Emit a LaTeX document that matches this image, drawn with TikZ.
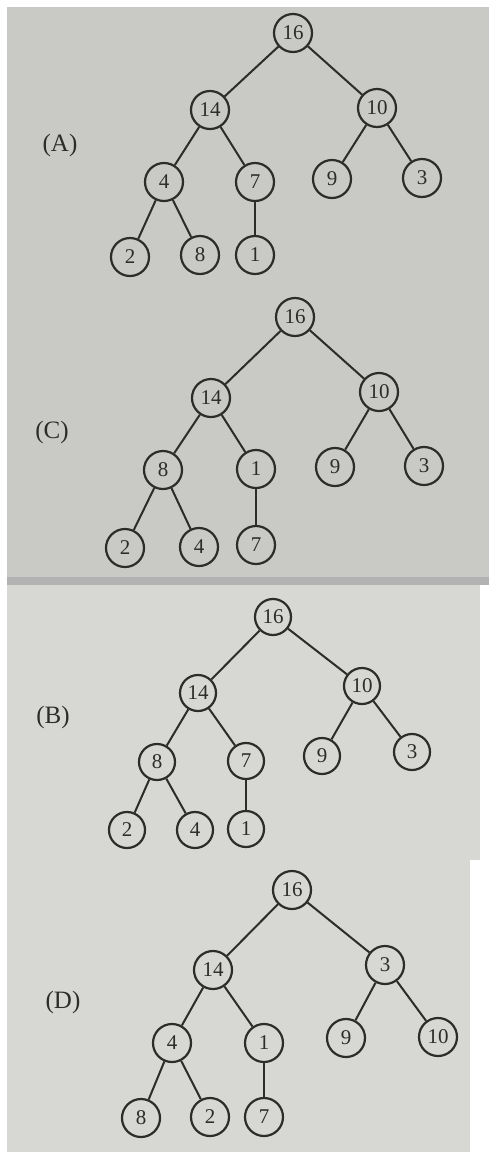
\documentclass[tikz,border=0pt]{standalone}
\usepackage{fontspec}
\setmainfont{Liberation Serif}
\definecolor{ink}{HTML}{2C2C2A}
\definecolor{paperA}{HTML}{C9C9C6}
\definecolor{paperB}{HTML}{D7D7D4}
\begin{document}
\begin{tikzpicture}[x=1pt, y=-1pt, font=\fontsize{21}{23}\selectfont,
	key/.style={circle, draw=ink, line width=2.2pt, text=ink, minimum size=38pt, inner sep=0pt},
	lbl/.style={text=ink, font=\fontsize{25}{27}\selectfont}]
	\fill[white] (0,0) rectangle (489,1152);
	\fill[paperA] (7,7) rectangle (489,577);
	\fill[gray!60] (7,577) rectangle (489,585);
	\fill[paperB] (7,585) rectangle (480,860);
	\fill[paperB] (7,860) rectangle (470,1152);
	\node[lbl] (la) at (60,145) {(A)};
	\node[lbl] (lc) at (52,432) {(C)};
	\node[lbl] (lb) at (53,717) {(B)};
	\node[lbl] (ld) at (63,1002) {(D)};
	\foreach \i/\x/\y/\v in {1/293/33/16, 2/210/110/14, 3/377/108/10, 4/164/182/4, 5/255/182/7,
		6/332/179/9, 7/422/178/3, 8/130/257/2, 9/200/255/8, 10/255/255/1}
		\node[key] (a\i) at (\x,\y) {\v};
	\foreach \i/\x/\y/\v in {1/295/317/16, 2/211/398/14, 3/379/392/10, 4/163/470/8, 5/256/469/1,
		6/335/467/9, 7/424/466/3, 8/125/548/2, 9/199/547/4, 10/256/545/7}
		\node[key] (c\i) at (\x,\y) {\v};
	\foreach \i/\x/\y/\v in {1/273/617/16, 2/198/693/14, 3/362/686/10, 4/157/762/8, 5/246/761/7,
		6/322/756/9, 7/412/752/3, 8/127/830/2, 9/195/830/4, 10/246/829/1}
		\node[key, minimum size=36pt] (b\i) at (\x,\y) {\v};
	\foreach \i/\x/\y/\v in {1/292/890/16, 2/213/970/14, 3/385/965/3, 4/172/1043/4, 5/264/1043/1,
		6/346/1038/9, 7/438/1037/10, 8/141/1118/8, 9/210/1117/2, 10/264/1117/7}
		\node[key] (d\i) at (\x,\y) {\v};
	\foreach \t in {a,b,c,d}
		\foreach \p/\q in {1/2, 1/3, 2/4, 2/5, 3/6, 3/7, 4/8, 4/9, 5/10}
			\draw[ink, line width=2pt] (\t\p) -- (\t\q);
\end{tikzpicture}
\end{document}
